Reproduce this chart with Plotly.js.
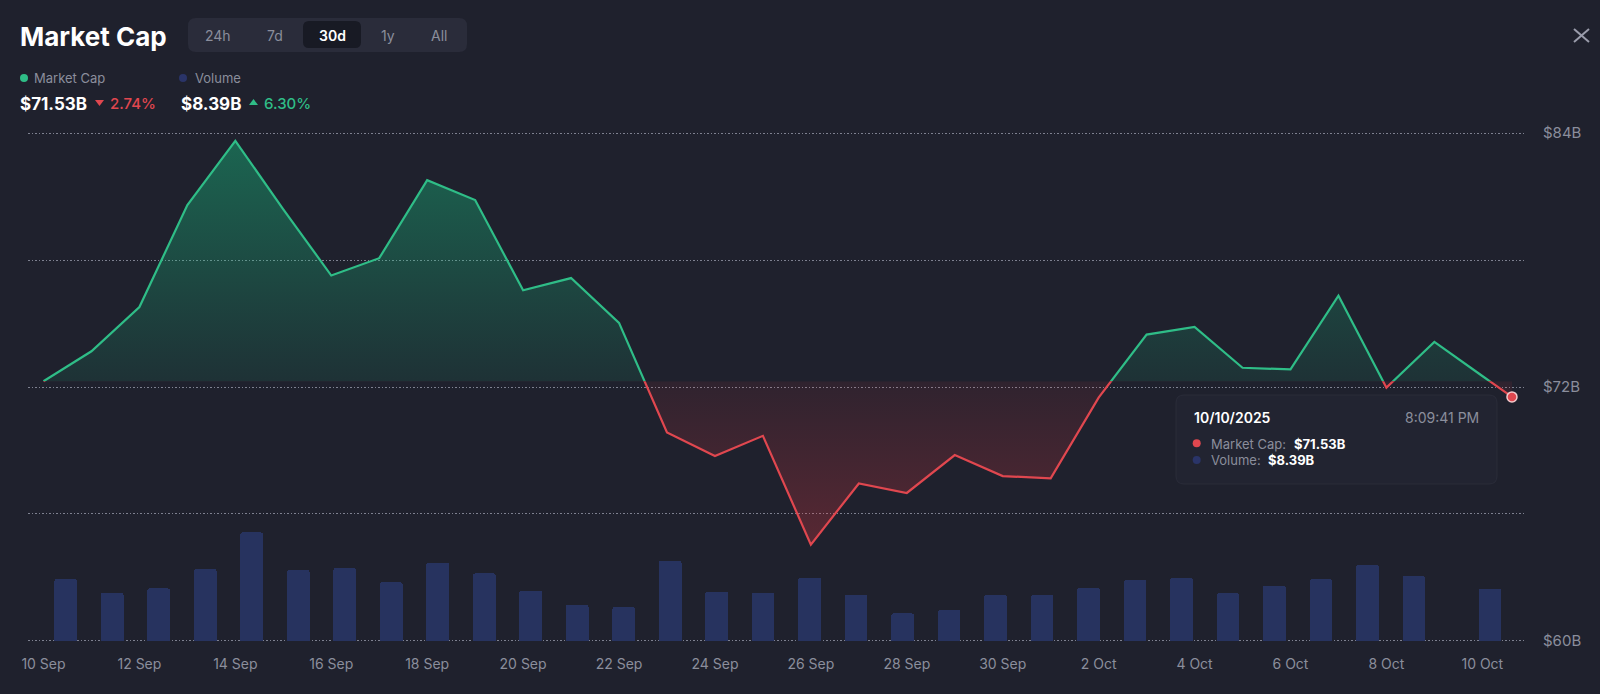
<!DOCTYPE html>
<html>
<head>
<meta charset="utf-8">
<script src="https://cdn.plot.ly/plotly-3.0.1.min.js"></script>
<style>
  html, body { margin: 0; padding: 0; background: #1f212d; }
  #chart { width: 1600px; height: 694px; }
</style>
</head>
<body>
<div id="chart"></div>
<script>
// ---------- DATA ----------
const dates = [
  '2025-09-10','2025-09-11','2025-09-12','2025-09-13','2025-09-14','2025-09-15',
  '2025-09-16','2025-09-17','2025-09-18','2025-09-19','2025-09-20','2025-09-21',
  '2025-09-22','2025-09-23','2025-09-24','2025-09-25','2025-09-26','2025-09-27',
  '2025-09-28','2025-09-29','2025-09-30','2025-10-01','2025-10-02','2025-10-03',
  '2025-10-04','2025-10-05','2025-10-06','2025-10-07','2025-10-08','2025-10-09',
  '2025-10-10','2025-10-10 14:50'
];
const marketCap = [
  72.27, 73.69, 75.78, 80.60, 83.64, 80.40,
  77.27, 78.09, 81.78, 80.84, 76.57, 77.15,
  75.03, 69.85, 68.74, 69.69, 64.55, 67.44,
  66.99, 68.78, 67.79, 67.68, 71.50, 74.48,
  74.84, 72.91, 72.83, 76.32, 71.97, 74.13,
  72.52, 71.53
];
const volumeTimes = [
  '2025-09-10 11:10','2025-09-11 10:25','2025-09-12 09:41','2025-09-13 08:57',
  '2025-09-14 08:13','2025-09-15 07:29','2025-09-16 06:44','2025-09-17 06:00',
  '2025-09-18 05:16','2025-09-19 04:32','2025-09-20 03:47','2025-09-21 03:03',
  '2025-09-22 02:19','2025-09-23 01:35','2025-09-24 00:50','2025-09-25 00:06',
  '2025-09-25 23:22','2025-09-26 22:38','2025-09-27 21:53','2025-09-28 21:10',
  '2025-09-29 20:25','2025-09-30 19:41','2025-10-01 18:57','2025-10-02 18:13',
  '2025-10-03 17:28','2025-10-04 16:44','2025-10-05 16:00','2025-10-06 15:16',
  '2025-10-07 14:32','2025-10-08 13:47','2025-10-10 03:50'
];
const volume = [
  9.95, 7.74, 8.45, 11.56, 17.48, 11.40, 11.73, 9.44,
  12.58, 10.87, 8.06, 5.81, 5.44, 12.90, 7.90, 7.74,
  10.16, 7.42, 4.42, 4.95, 7.37, 7.37, 8.55, 9.79,
  10.11, 7.69, 8.92, 9.95, 12.21, 10.44, 8.39
];
const yTickVals = [60, 66, 72, 78, 84];
const yTickText = ['$60B', '', '$72B', '', '$84B'];
const rangeButtons = ['24h', '7d', '30d', '1y', 'All'];
const activeButton = '30d';
const titleText = 'Market Cap';
const legendNames = ['Market Cap', 'Volume'];
const headerValues = ['$71.53B', '$8.39B'];
const headerChanges = ['2.74%', '6.30%'];
const tooltipDate = '10/10/2025';
const tooltipTime = '8:09:41 PM';
const tooltipValues = ['$71.53B', '$8.39B'];

// ---------- STYLE ----------
const BG = '#1f212d';
const GREEN = '#2fbd87';
const RED = '#e0474f';
const BAR = '#27335f';
const GRAY = '#8b8e9c';
const FONT = 'Inter, "Noto Sans", sans-serif';

const yLo = 59.85, yHi = 84.15;     // small pad so the $60B / $84B gridlines are drawn
const volPerB = 3.4125;             // volume-axis units per $1B of market-cap axis
const base = marketCap[0];
const split = (base - yLo) / (yHi - yLo);
const lastIdx = marketCap.length - 1;

// plot area in pixels
const L = 28, R = 1524, T = 130, B = 644;
const px = x => (x - L) / (R - L);
const py = y => (B - y) / (B - T);

function roundRect(x0, y0, x1, y1, r) {
  const P = (x, y) => px(x) + ',' + py(y);
  return 'M' + P(x0 + r, y0) + ' L' + P(x1 - r, y0) + ' Q' + P(x1, y0) + ' ' + P(x1, y0 + r) +
    ' L' + P(x1, y1 - r) + ' Q' + P(x1, y1) + ' ' + P(x1 - r, y1) +
    ' L' + P(x0 + r, y1) + ' Q' + P(x0, y1) + ' ' + P(x0, y1 - r) +
    ' L' + P(x0, y0 + r) + ' Q' + P(x0, y0) + ' ' + P(x0 + r, y0) + ' Z';
}
function tri(cx, cy, w, h, down) {
  const P = (x, y) => px(x) + ',' + py(y);
  if (down) return 'M' + P(cx - w / 2, cy - h / 2) + ' L' + P(cx + w / 2, cy - h / 2) + ' L' + P(cx, cy + h / 2) + ' Z';
  return 'M' + P(cx - w / 2, cy + h / 2) + ' L' + P(cx + w / 2, cy + h / 2) + ' L' + P(cx, cy - h / 2) + ' Z';
}
function dot(cx, cy, r, color) {
  return { type: 'circle', xref: 'paper', yref: 'paper', x0: px(cx - r), x1: px(cx + r),
    y0: py(cy + r), y1: py(cy - r), fillcolor: color, line: { width: 0 } };
}
function ann(text, x, y, size, color, anchor, weight) {
  return { text: text, x: px(x), y: py(y), xref: 'paper', yref: 'paper', showarrow: false,
    xanchor: anchor || 'left', yanchor: 'middle',
    font: { family: FONT, size: size, color: color, weight: weight || 400 } };
}

// ---------- TRACES ----------
const traces = [
  { type: 'scatter', x: [dates[0]], y: [base], yaxis: 'y', mode: 'markers',
    marker: { opacity: 0 }, hoverinfo: 'skip', showlegend: false },
  { type: 'bar', x: volumeTimes, y: volume, yaxis: 'y2', name: legendNames[1],
    width: 40.9e6, marker: { color: BAR, cornerradius: 2, line: { width: 0 } }, showlegend: false },
  { type: 'scatter', x: dates, y: marketCap, yaxis: 'y3', mode: 'lines',
    line: { color: GREEN, width: 2.2 }, fill: 'tozeroy',
    fillgradient: { type: 'vertical', start: base, stop: 84,
      colorscale: [[0, 'rgba(22,199,132,0.10)'], [1, 'rgba(22,199,132,0.42)']] },
    showlegend: false },
  { type: 'scatter', x: [dates[0], dates[lastIdx]], y: [base, base], yaxis: 'y4', mode: 'lines',
    line: { width: 0, color: 'rgba(0,0,0,0)' }, hoverinfo: 'skip', showlegend: false },
  { type: 'scatter', x: dates, y: marketCap, yaxis: 'y4', mode: 'lines',
    line: { color: RED, width: 2.2 }, fill: 'tonexty',
    fillgradient: { type: 'vertical', start: 60, stop: base,
      colorscale: [[0, 'rgba(234,57,67,0.40)'], [1, 'rgba(234,57,67,0.08)']] },
    showlegend: false },
  { type: 'scatter', x: [dates[lastIdx]], y: [marketCap[lastIdx]], yaxis: 'y4', mode: 'markers',
    cliponaxis: false,
    marker: { color: RED, size: 10, line: { color: '#f4c9cc', width: 1.5 } }, showlegend: false }
];

// ---------- LAYOUT ----------
const shapes = [
  { type: 'path', xref: 'paper', yref: 'paper', path: roundRect(188, 18, 467, 52, 8),
    fillcolor: '#2a2c3a', line: { width: 0 } },
  { type: 'path', xref: 'paper', yref: 'paper', path: roundRect(303, 21, 361, 48, 6),
    fillcolor: '#181a24', line: { width: 0 } },
  dot(24, 78, 4, GREEN),
  dot(183, 78, 4, '#2a3468'),
  { type: 'path', xref: 'paper', yref: 'paper', path: tri(99.5, 103, 9, 6, true),
    fillcolor: RED, line: { width: 0 } },
  { type: 'path', xref: 'paper', yref: 'paper', path: tri(253.5, 102, 9, 6, false),
    fillcolor: GREEN, line: { width: 0 } },
  { type: 'line', xref: 'paper', yref: 'paper', x0: px(1574), y0: py(29), x1: px(1589), y1: py(42),
    line: { color: '#9a9cab', width: 2 } },
  { type: 'line', xref: 'paper', yref: 'paper', x0: px(1574), y0: py(42), x1: px(1589), y1: py(29),
    line: { color: '#9a9cab', width: 2 } },
  { type: 'path', xref: 'paper', yref: 'paper', path: roundRect(1176, 395, 1497, 484, 8),
    fillcolor: '#222431', line: { color: '#2a2c39', width: 1 } },
  dot(1196.7, 443.3, 4, RED),
  dot(1196.7, 460, 4, '#2a3468')
];

const btnCenters = [218, 275, 332, 388, 439];
const annotations = [
  ann(titleText, 18, 37, 26, '#ffffff', 'left', 700),
  ann(legendNames[0], 32, 78.5, 13, GRAY),
  ann(legendNames[1], 193, 78.5, 13, GRAY),
  ann(headerValues[0], 18, 104, 17, '#ffffff', 'left', 700),
  ann(headerChanges[0], 108, 104, 15, RED, 'left', 500),
  ann(headerValues[1], 179, 104, 17, '#ffffff', 'left', 700),
  ann(headerChanges[1], 262, 104, 15, GREEN, 'left', 500),
  ann(tooltipDate, 1192, 417, 14, '#ffffff', 'left', 600),
  ann(tooltipTime, 1481, 417, 14, GRAY, 'right'),
  ann(legendNames[0] + ':', 1209, 443.5, 13, GRAY),
  ann(tooltipValues[0], 1292, 443.5, 13, '#ffffff', 'left', 700),
  ann(legendNames[1] + ':', 1209, 460.5, 13, GRAY),
  ann(tooltipValues[1], 1266, 460.5, 13, '#ffffff', 'left', 700)
];
rangeButtons.forEach((b, i) => {
  const act = b === activeButton;
  annotations.push(ann(b, btnCenters[i], 35, 14, act ? '#ffffff' : GRAY, 'center', act ? 600 : 400));
});

const layout = {
  width: 1600, height: 694,
  margin: { l: L, r: 1600 - R, t: T, b: 694 - B, pad: 0 },
  paper_bgcolor: BG, plot_bgcolor: 'rgba(0,0,0,0)',
  font: { family: FONT, color: GRAY },
  showlegend: false,
  hovermode: false,
  dragmode: false,
  bargap: 0,
  xaxis: {
    type: 'date',
    range: ['2025-09-09 16:15', '2025-10-10 20:51'],
    tick0: '2025-09-10', dtick: 2 * 86400000,
    tickformat: '%-d %b',
    showgrid: false, zeroline: false, showline: false,
    ticks: 'outside', ticklen: 3, tickcolor: 'rgba(0,0,0,0)',
    tickfont: { family: FONT, size: 14, color: GRAY },
    ticklabelstandoff: 4
  },
  yaxis: {
    range: [yLo, yHi], side: 'right',
    tickvals: yTickVals, ticktext: yTickText,
    showgrid: true, gridcolor: '#7e8190', griddash: '1.5px,2px', gridwidth: 1,
    zeroline: false, showline: false, ticks: '',
    ticklabelstandoff: 18,
    tickfont: { family: FONT, size: 15, color: GRAY }
  },
  yaxis2: { overlaying: 'y', range: [(yLo - 60) * volPerB, (yHi - 60) * volPerB], visible: false, showgrid: false },
  yaxis3: { domain: [split, 1], range: [base, yHi], anchor: 'x', visible: false, showgrid: false },
  yaxis4: { domain: [0, split], range: [yLo, base], anchor: 'x', visible: false, showgrid: false },
  shapes: shapes,
  annotations: annotations
};

Plotly.newPlot('chart', traces, layout, { staticPlot: true, displayModeBar: false });
</script>
</body>
</html>
